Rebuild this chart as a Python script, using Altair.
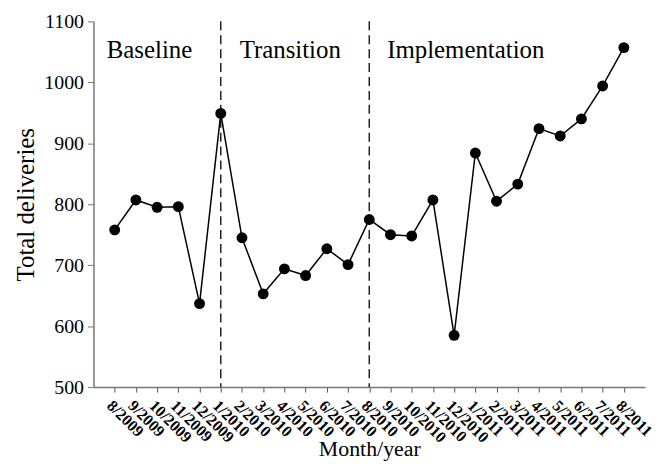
import altair as alt
import pandas as pd

months = ["8/2009", "9/2009", "10/2009", "11/2009", "12/2009",
          "1/2010", "2/2010", "3/2010", "4/2010", "5/2010", "6/2010", "7/2010",
          "8/2010", "9/2010", "10/2010", "11/2010", "12/2010",
          "1/2011", "2/2011", "3/2011", "4/2011", "5/2011", "6/2011", "7/2011", "8/2011"]
deliveries = [758, 807, 795, 796, 637,
              949, 745, 653, 694, 683, 727, 701,
              775, 750, 748, 807, 585,
              884, 805, 833, 924, 912, 940, 994, 1057]

phase_starts = ["1/2010", "8/2010"]
phase_labels = ["Baseline", "Transition", "Implementation"]
phase_label_x = ["8/2009", "1/2010", "8/2010"]
phase_label_dx = [-8, 19, 18]
phase_label_y = [1040, 1040, 1040]

df = pd.DataFrame({"month": months, "deliveries": deliveries})
rules = pd.DataFrame({"month": phase_starts})

FONT = "Liberation Serif"
xscale = alt.Scale(type="point", domain=months, padding=1.03)

x = alt.X("month:N", sort=months, scale=xscale,
          axis=alt.Axis(title="Month/year", labelAngle=45, labelFont=FONT, labelFontSize=16,
                        labelFontWeight="bold", labelColor="black", labelAlign="left",
                        labelBaseline="top", labelPadding=5,
                        titleFont=FONT, titleFontSize=22, titleFontWeight="normal",
                        titleColor="black", titleBaseline="alphabetic", titleY=69,
                        domainColor="#777777", tickColor="#555555", tickSize=5,
                        domainWidth=1.5))
y = alt.Y("deliveries:Q", scale=alt.Scale(domain=[500, 1100], nice=False, zero=False),
          axis=alt.Axis(title="Total deliveries", values=list(range(500, 1101, 100)),
                        format="d", grid=False, labelFont=FONT, labelFontSize=20,
                        labelColor="black", labelPadding=4, titleFont=FONT, titleFontSize=25,
                        titleFontWeight="normal", titleColor="black", titlePadding=5,
                        domainColor="#777777", tickColor="#777777", tickSize=6,
                        domainWidth=1.5))

line = alt.Chart(df).mark_line(color="black", strokeWidth=1.5).encode(x=x, y=y)
points = alt.Chart(df).mark_circle(color="black", opacity=1, size=120).encode(x=x, y=y)

rule = alt.Chart(rules).mark_rule(color="#222222", strokeWidth=1.5, strokeDash=[9, 5]).encode(
    x=alt.X("month:N", sort=months, scale=xscale),
    y=alt.value(0), y2=alt.value(368))

texts = []
for lab, mx, dx, yy in zip(phase_labels, phase_label_x, phase_label_dx, phase_label_y):
    sub = pd.DataFrame({"month": [mx], "label": [lab], "y": [yy]})
    texts.append(alt.Chart(sub).mark_text(align="left", baseline="alphabetic", font=FONT,
                                          fontSize=25, color="black", dx=dx).encode(
        x=alt.X("month:N", sort=months, scale=xscale),
        y=alt.Y("y:Q"),
        text="label:N"))

chart = alt.layer(rule, line, points, *texts).properties(
    width=555, height=368,
    autosize=alt.AutoSizeParams(type="none"),
    padding={"left": 86, "top": 12, "right": 10, "bottom": 90},
).configure_view(stroke=None).configure_axis(labelFont=FONT, titleFont=FONT)

chart.save("out.html", embed_options={"renderer": "svg", "actions": False})
